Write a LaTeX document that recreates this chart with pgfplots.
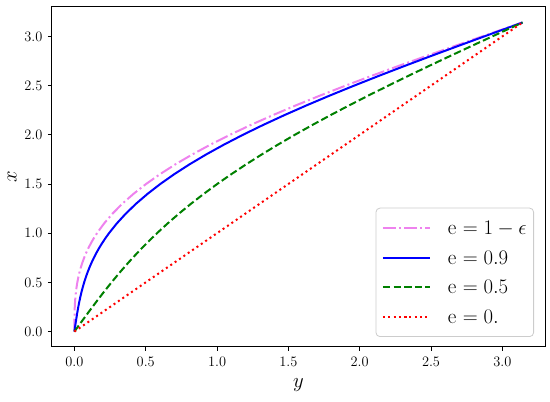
\documentclass[border=0pt]{standalone}
\usepackage{pgfplots}
\pgfplotsset{compat=1.18}
\definecolor{mviolet}{HTML}{EE82EE}
\definecolor{mgreen}{HTML}{008000}
\begin{document}
\begin{tikzpicture}
\begin{axis}[
  name=ax,
  scale only axis,
  width=493pt, height=340pt,
  xmin=-0.157, xmax=3.299,
  ymin=-0.157, ymax=3.299,
  xtick={0,0.5,...,3.0},
  ytick={0,0.5,...,3.0},
  axis line style={line width=1pt},
  tick style={line width=0.8pt, black},
  tick align=outside,
  major tick length=4pt,
  xtick pos=bottom, ytick pos=left,
  tick label style={font=\fontsize{15}{18}\selectfont},
  xticklabel style={yshift=-3pt},
  yticklabel style={xshift=-2pt},
  x tick label style={/pgf/number format/.cd, fixed, fixed zerofill, precision=1},
  y tick label style={/pgf/number format/.cd, fixed, fixed zerofill, precision=1},
  xlabel={$y$}, ylabel={$x$},
  label style={font=\fontsize{20}{24}\selectfont},
  xlabel style={at={(axis description cs:0.5,-0.112)}, anchor=center},
  ylabel style={at={(axis description cs:-0.081,0.5)}, anchor=center, rotate=0},
  legend cell align=left,
  legend style={
    at={(1,0)}, anchor=south east, xshift=-11pt, yshift=10pt,
    font=\fontsize{21}{25}\selectfont,
    draw=black!20, line width=0.8pt, rounded corners=4pt,
    inner xsep=6pt, inner ysep=10.5pt,
    row sep=10.5pt,
    nodes={inner sep=1pt, text height=15pt, text depth=2pt},
    /tikz/every odd column/.append style={column sep=16pt},
  },
  legend image code/.code={
    \draw[#1] plot coordinates {(0pt,0pt) (23pt,0pt) (47pt,0pt)};
  },
]
% e = 1 - eps
\addplot[mviolet, line width=2pt, dash pattern=on 12.8pt off 3.2pt on 2pt off 3.2pt] coordinates {
  (0,0) (0.000021,0.05) (0.000167,0.1) (0.000562,0.15) (0.001331,0.2) (0.002596,0.25)
  (0.004480,0.3) (0.007102,0.35) (0.010582,0.4) (0.015034,0.45) (0.020574,0.5)
  (0.027313,0.55) (0.035358,0.6) (0.044814,0.65) (0.055782,0.7) (0.068361,0.75)
  (0.082644,0.8) (0.098720,0.85) (0.116673,0.9) (0.136584,0.95) (0.158529,1.0)
  (0.208793,1.1) (0.267961,1.2) (0.336442,1.3) (0.414550,1.4) (0.502505,1.5)
  (0.600426,1.6) (0.708335,1.7) (0.826152,1.8) (0.953700,1.9) (1.090703,2.0)
  (1.236791,2.1) (1.391504,2.2) (1.554295,2.3) (1.724537,2.4) (1.901528,2.5)
  (2.084499,2.6) (2.272620,2.7) (2.465012,2.8) (2.660751,2.9) (2.858880,3.0)
  (3.141593,3.141593)
};
% e = 0.9
\addplot[blue, line width=2pt] coordinates {
  (0,0) (0.005019,0.05) (0.010150,0.1) (0.015506,0.15) (0.021198,0.2) (0.027336,0.25)
  (0.034032,0.3) (0.041392,0.35) (0.049524,0.4) (0.058531,0.45) (0.068517,0.5)
  (0.079582,0.55) (0.091822,0.6) (0.105333,0.65) (0.120204,0.7) (0.136525,0.75)
  (0.154380,0.8) (0.173848,0.85) (0.195006,0.9) (0.217926,0.95) (0.242676,1.0)
  (0.297914,1.1) (0.361165,1.2) (0.432798,1.3) (0.513095,1.4) (0.602254,1.5)
  (0.700383,1.6) (0.807501,1.7) (0.923537,1.8) (1.048330,1.9) (1.181633,2.0)
  (1.323112,2.1) (1.472354,2.2) (1.628865,2.3) (1.792083,2.4) (1.961375,2.5)
  (2.136049,2.6) (2.315358,2.7) (2.498511,2.8) (2.684676,2.9) (2.872992,3.0)
  (3.141593,3.141593)
};
% e = 0.5
\addplot[mgreen, line width=2pt, dash pattern=on 7.4pt off 3.2pt] coordinates {
  (0,0) (0.050083,0.1) (0.100665,0.2) (0.152240,0.3) (0.205291,0.4)
  (0.260287,0.5) (0.317679,0.6) (0.377891,0.7) (0.441322,0.8) (0.508336,0.9)
  (0.579264,1.0) (0.654396,1.1) (0.733980,1.2) (0.818221,1.3) (0.907275,1.4)
  (1.001252,1.5) (1.100213,1.6) (1.204167,1.7) (1.313076,1.8) (1.426850,1.9)
  (1.545351,2.0) (1.668395,2.1) (1.795752,2.2) (1.927147,2.3) (2.062268,2.4)
  (2.200764,2.5) (2.342249,2.6) (2.486310,2.7) (2.632506,2.8) (2.780375,2.9)
  (2.929440,3.0) (3.141593,3.141593)
};
% e = 0
\addplot[red, line width=2pt, dash pattern=on 2pt off 3.3pt] coordinates {
  (0,0) (3.141593,3.141593)
};
\legend{{e $= 1-\epsilon$}, {e $= 0.9$}, {e $= 0.5$}, {e $= 0.$}}
\end{axis}
\pgfresetboundingbox
\path ([shift={(-52pt,-55pt)}]ax.south west) rectangle ([shift={(5pt,7pt)}]ax.north east);
\end{tikzpicture}
\end{document}
